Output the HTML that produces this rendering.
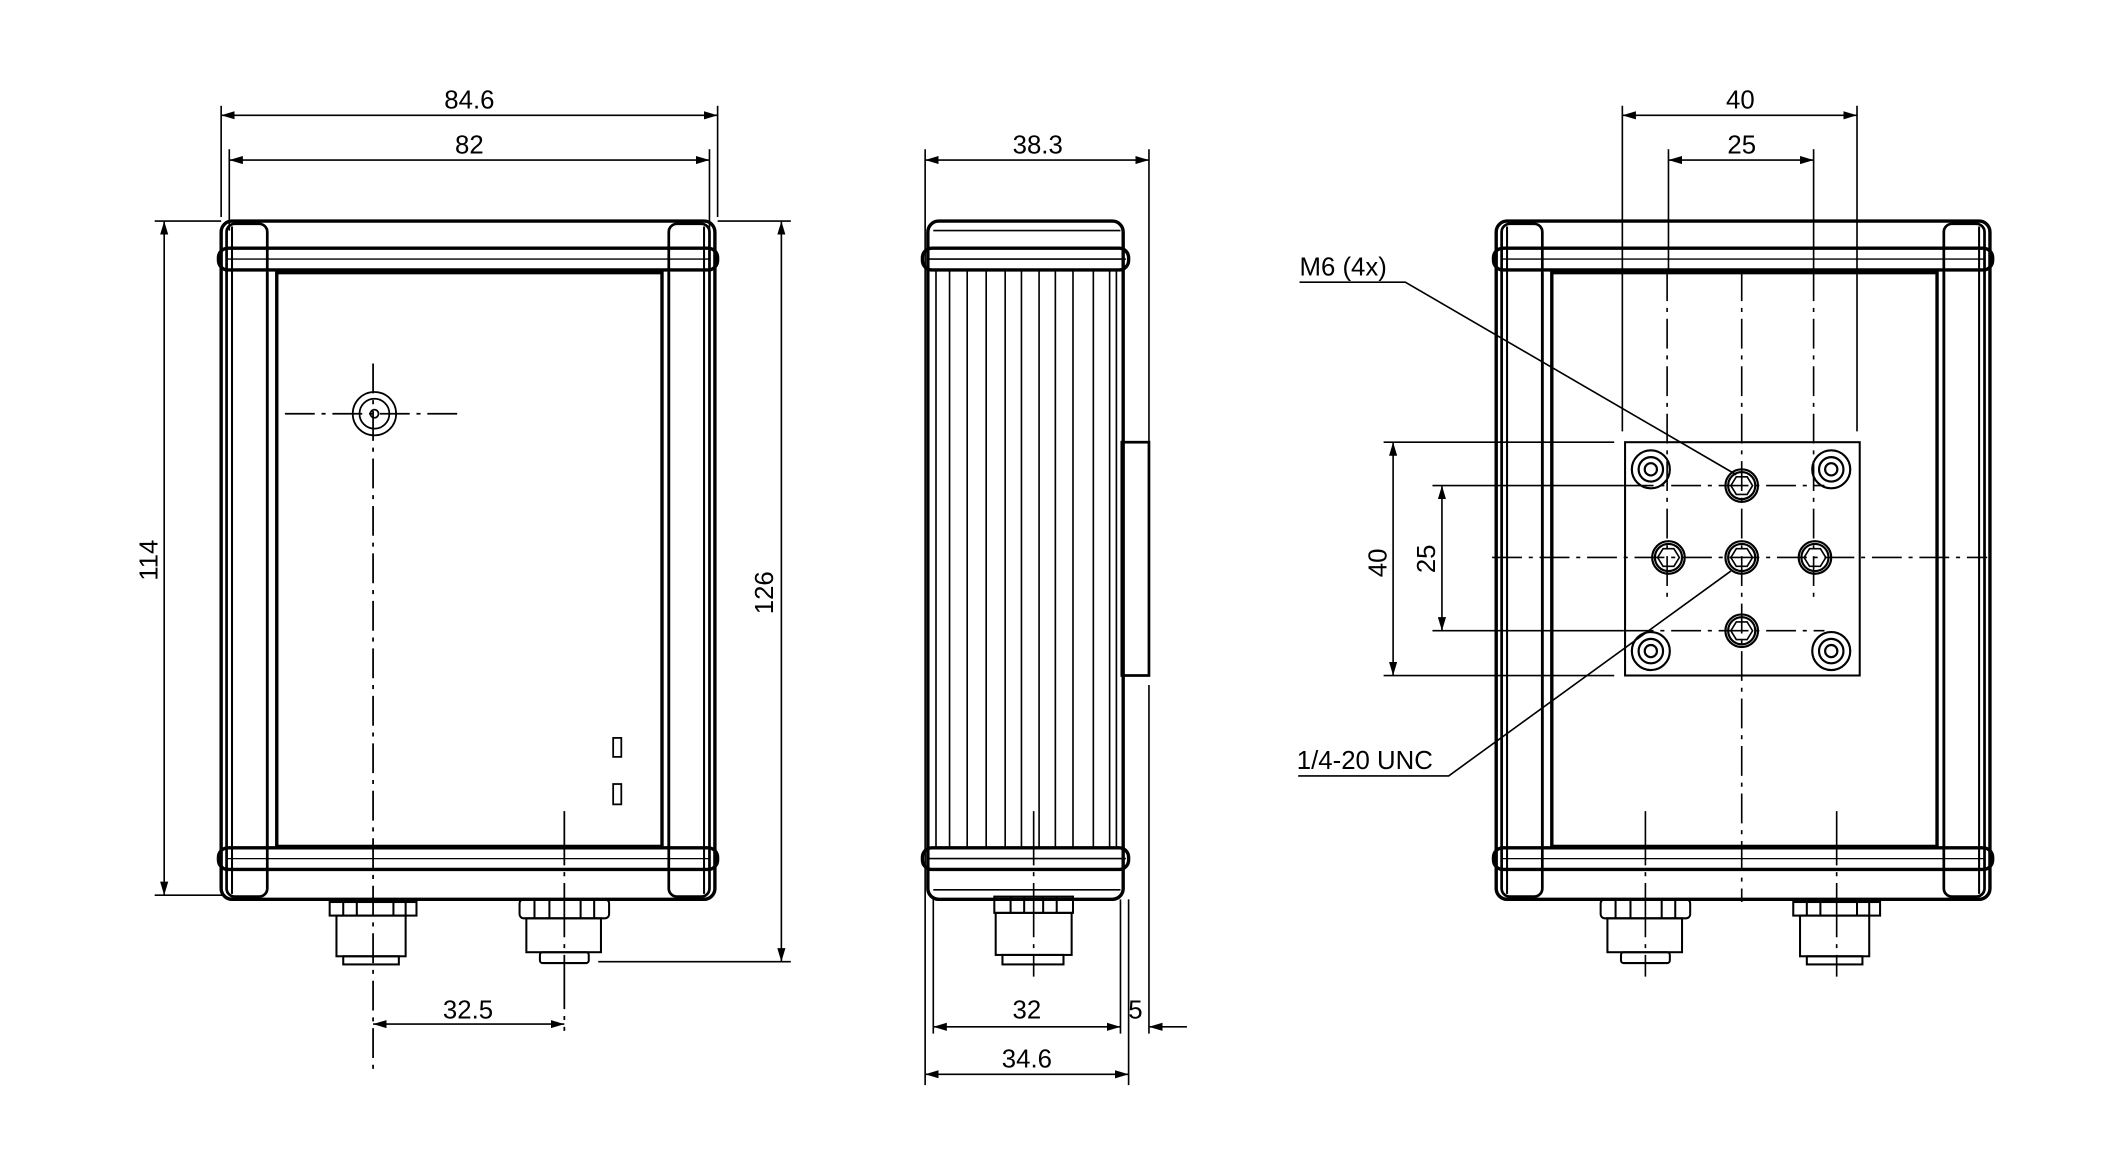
<!DOCTYPE html>
<html><head><meta charset="utf-8"><style>html,body{margin:0;padding:0;background:#fff}svg{display:block}</style></head><body>
<svg width="2127" height="1155" viewBox="0 0 1568 851.5" xmlns="http://www.w3.org/2000/svg" font-family="Liberation Sans, sans-serif" font-size="19" fill="none" stroke="#000">
<defs>
<marker id="a" viewBox="0 0 10 6" refX="10" refY="3" markerWidth="10" markerHeight="6" orient="auto-start-reverse" markerUnits="userSpaceOnUse"><path d="M0,0L10,3L0,6z" fill="#000" stroke="none"/></marker>
<g id="frame">
<rect x="0" y="0" width="364" height="500" rx="8" stroke-width="2.5"/>
<rect x="4" y="2" width="30" height="496" rx="6" stroke-width="2"/>
<rect x="330" y="2" width="30" height="496" rx="6" stroke-width="2"/>
<line x1="8" y1="4" x2="8" y2="496" stroke-width="1.5"/>
<line x1="356" y1="4" x2="356" y2="496" stroke-width="1.5"/>
<rect x="-2" y="20" width="368" height="16" rx="7" stroke-width="2.5"/>
<line x1="4" y1="28" x2="360" y2="28" stroke-width="1"/>
<rect x="-2" y="462" width="368" height="16" rx="7" stroke-width="2.5"/>
<line x1="4" y1="470" x2="360" y2="470" stroke-width="1"/>
<rect x="41" y="38" width="284" height="423" stroke-width="2.5"/>
<line x1="34" y1="38" x2="34" y2="461" stroke-width="2"/>
<line x1="330" y1="38" x2="330" y2="461" stroke-width="2"/>
</g>
<g id="conA" stroke-width="1.5">
<rect x="-32" y="2" width="64" height="10"/><line x1="-22" y1="2" x2="-22" y2="12"/><line x1="-12" y1="2" x2="-12" y2="12"/><line x1="15" y1="2" x2="15" y2="12"/><line x1="24" y1="2" x2="24" y2="12"/>
<rect x="-27" y="12" width="51" height="30"/><rect x="-22" y="42" width="41" height="6"/>
</g>
<g id="conB" stroke-width="1.5">
<rect x="-33" y="0" width="66" height="14" rx="3"/><line x1="-22" y1="0" x2="-22" y2="14"/><line x1="-11" y1="0" x2="-11" y2="14"/><line x1="12" y1="0" x2="12" y2="14"/><line x1="22" y1="0" x2="22" y2="14"/>
<rect x="-28" y="14" width="55" height="25"/><rect x="-18" y="39" width="36" height="8" rx="2"/>
</g>
<g id="hex" stroke-width="1.6"><circle r="12"/><circle r="10"/><path d="M-4,-6.5L4,-6.5L8,0L4,6.5L-4,6.5L-8,0z" stroke-width="1.2"/></g>
<g id="rng" stroke-width="1.6"><circle r="14"/><circle r="9"/><circle r="4.5"/></g>
</defs>

<!-- FRONT VIEW -->
<use href="#frame" x="163" y="163"/>
<g stroke-width="1.3">
<circle cx="276" cy="305" r="16"/><circle cx="276" cy="305" r="11"/><circle cx="276" cy="305" r="3"/>
<line x1="210" y1="305" x2="338" y2="305" stroke-dasharray="22,5,3,5"/>
<line x1="275" y1="268" x2="275" y2="790" stroke-dasharray="22,5,3,5"/>
<line x1="416" y1="598" x2="416" y2="760" stroke-dasharray="40,5,3,5"/>
<rect x="452" y="544" width="6" height="14"/><rect x="452" y="578" width="6" height="15"/>
</g>
<use href="#conA" x="275" y="663"/>
<use href="#conB" x="416" y="663"/>
<g stroke-width="1.2">
<line x1="163" y1="78" x2="163" y2="160"/><line x1="529" y1="78" x2="529" y2="160"/>
<line x1="169" y1="110" x2="169" y2="170"/><line x1="523" y1="110" x2="523" y2="170"/>
<line x1="163" y1="85" x2="529" y2="85" marker-start="url(#a)" marker-end="url(#a)"/>
<line x1="169" y1="118" x2="523" y2="118" marker-start="url(#a)" marker-end="url(#a)"/>
<line x1="114" y1="163" x2="163" y2="163"/><line x1="114" y1="660" x2="165" y2="660"/>
<line x1="121" y1="163" x2="121" y2="660" marker-start="url(#a)" marker-end="url(#a)"/>
<line x1="529" y1="163" x2="583" y2="163"/><line x1="441" y1="709" x2="583" y2="709"/>
<line x1="576" y1="163" x2="576" y2="709" marker-start="url(#a)" marker-end="url(#a)"/>
<line x1="275" y1="755" x2="416" y2="755" marker-start="url(#a)" marker-end="url(#a)"/>
</g>
<g fill="#000" stroke="none">
<text x="346" y="80" text-anchor="middle">84.6</text>
<text x="346" y="113" text-anchor="middle">82</text>
<text transform="translate(116,413) rotate(-90)" text-anchor="middle">114</text>
<text transform="translate(570,437) rotate(-90)" text-anchor="middle">126</text>
<text x="345" y="751" text-anchor="middle">32.5</text>
</g>

<!-- SIDE VIEW -->
<g stroke-width="2.5">
<rect x="684" y="163" width="144" height="500" rx="8"/>
<rect x="680" y="183" width="152" height="16" rx="7"/>
<rect x="680" y="625" width="152" height="16" rx="7"/>
<rect x="827" y="326" width="20" height="172" stroke-width="2"/>
</g>
<g stroke-width="1.2">
<line x1="684" y1="191" x2="830" y2="191"/><line x1="684" y1="633" x2="830" y2="633"/>
<line x1="688" y1="170" x2="826" y2="170"/><line x1="688" y1="656" x2="826" y2="656"/>
<path d="M700 199V625M713 199V625M727 199V625M741 199V625M753 199V625M766 199V625M778 199V625M791 199V625M806 199V625M818 199V625M690 199V625M823 199V625"/>
</g>
<g stroke-width="1.5">
<rect x="733" y="661" width="58" height="12"/><line x1="745" y1="661" x2="745" y2="673"/><line x1="755" y1="661" x2="755" y2="673"/><line x1="769" y1="661" x2="769" y2="673"/><line x1="779" y1="661" x2="779" y2="673"/>
<rect x="734" y="673" width="56" height="31"/><rect x="739" y="704" width="45" height="7"/>
</g>
<line x1="762" y1="598" x2="762" y2="720" stroke-width="1.2" stroke-dasharray="40,5,3,5"/>
<g stroke-width="1.2">
<line x1="682" y1="110" x2="682" y2="800"/><line x1="847" y1="110" x2="847" y2="326"/><line x1="847" y1="505" x2="847" y2="762"/>
<line x1="682" y1="118" x2="847" y2="118" marker-start="url(#a)" marker-end="url(#a)"/>
<line x1="688" y1="663" x2="688" y2="762"/><line x1="826" y1="663" x2="826" y2="762"/><line x1="832" y1="663" x2="832" y2="800"/>
<line x1="688" y1="757" x2="826" y2="757" marker-start="url(#a)" marker-end="url(#a)"/>
<line x1="875" y1="757" x2="847" y2="757" marker-end="url(#a)"/>
<line x1="682" y1="792" x2="832" y2="792" marker-start="url(#a)" marker-end="url(#a)"/>
</g>
<g fill="#000" stroke="none">
<text x="765" y="113" text-anchor="middle">38.3</text>
<text x="757" y="751" text-anchor="middle">32</text>
<text x="837" y="751" text-anchor="middle">5</text>
<text x="757" y="787" text-anchor="middle">34.6</text>
</g>

<!-- BACK VIEW -->
<use href="#frame" x="1103" y="163"/>
<rect x="1198" y="326" width="173" height="172" stroke-width="1.5" fill="#fff"/>
<g stroke-width="1.2" stroke-dasharray="22,5,3,5">
<line x1="1284" y1="200" x2="1284" y2="665"/>
<line x1="1100" y1="411" x2="1465" y2="411"/>
<line x1="1197" y1="358" x2="1345" y2="358"/>
<line x1="1197" y1="465" x2="1345" y2="465"/>
<line x1="1229" y1="200" x2="1229" y2="440"/>
<line x1="1337" y1="200" x2="1337" y2="440"/>
<line x1="1213" y1="598" x2="1213" y2="720" stroke-dasharray="40,5,3,5"/>
<line x1="1354" y1="598" x2="1354" y2="720" stroke-dasharray="40,5,3,5"/>
</g>
<use href="#rng" x="1217" y="346"/><use href="#rng" x="1350" y="346"/>
<use href="#rng" x="1217" y="480"/><use href="#rng" x="1350" y="480"/>
<use href="#hex" x="1284" y="358"/><use href="#hex" x="1284" y="465"/>
<use href="#hex" x="1230" y="411"/><use href="#hex" x="1284" y="411"/><use href="#hex" x="1338" y="411"/>
<use href="#conB" x="1213" y="663"/>
<use href="#conA" x="1354" y="663"/>
<g stroke-width="1.2">
<line x1="1196" y1="78" x2="1196" y2="318"/><line x1="1369" y1="78" x2="1369" y2="318"/>
<line x1="1196" y1="85" x2="1369" y2="85" marker-start="url(#a)" marker-end="url(#a)"/>
<line x1="1230" y1="110" x2="1230" y2="200"/><line x1="1337" y1="110" x2="1337" y2="200"/>
<line x1="1230" y1="118" x2="1337" y2="118" marker-start="url(#a)" marker-end="url(#a)"/>
<line x1="1020" y1="326" x2="1190" y2="326"/><line x1="1020" y1="498" x2="1190" y2="498"/>
<line x1="1027" y1="326" x2="1027" y2="498" marker-start="url(#a)" marker-end="url(#a)"/>
<line x1="1056" y1="358" x2="1197" y2="358"/><line x1="1056" y1="465" x2="1197" y2="465"/>
<line x1="1063" y1="358" x2="1063" y2="465" marker-start="url(#a)" marker-end="url(#a)"/>
<polyline points="958,208 1036,208 1280,350"/>
<polyline points="957,572 1068,572 1276,421"/>
</g>
<g fill="#000" stroke="none">
<text x="1283" y="80" text-anchor="middle">40</text>
<text x="1284" y="113" text-anchor="middle">25</text>
<text transform="translate(1022,415) rotate(-90)" text-anchor="middle">40</text>
<text transform="translate(1058,412) rotate(-90)" text-anchor="middle">25</text>
<text x="958" y="203">M6 (4x)</text>
<text x="956" y="567">1/4-20 UNC</text>
</g>
</svg>
</body></html>
